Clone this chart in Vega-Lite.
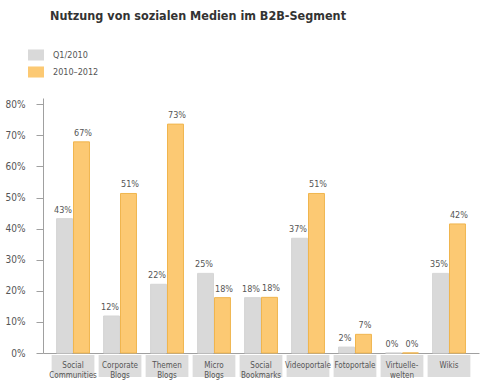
{
  "$schema": "https://vega.github.io/schema/vega-lite/v6.json",
  "padding": {"left": 5, "top": 9, "right": 5, "bottom": 0},
  "background": "white",
  "title": {"text": "Nutzung von sozialen Medien im B2B-Segment", "anchor": "start", "font": "DejaVu Sans Condensed, Liberation Sans, sans-serif", "fontSize": 12.5, "fontWeight": "bold", "color": "#333333", "offset": 25, "dx": 45},
  "config": {"view": {"stroke": null}, "font": "DejaVu Sans Condensed, Liberation Sans, sans-serif"},
  "datasets": {
    "bars": [
      {"cat": "sc", "series": "Q1/2010", "value": 0.432, "label": "43%"},
      {"cat": "sc", "series": "2010–2012", "value": 0.679, "label": "67%"},
      {"cat": "cb", "series": "Q1/2010", "value": 0.119, "label": "12%"},
      {"cat": "cb", "series": "2010–2012", "value": 0.513, "label": "51%"},
      {"cat": "tb", "series": "Q1/2010", "value": 0.221, "label": "22%"},
      {"cat": "tb", "series": "2010–2012", "value": 0.736, "label": "73%"},
      {"cat": "mb", "series": "Q1/2010", "value": 0.256, "label": "25%"},
      {"cat": "mb", "series": "2010–2012", "value": 0.178, "label": "18%"},
      {"cat": "sb", "series": "Q1/2010", "value": 0.178, "label": "18%"},
      {"cat": "sb", "series": "2010–2012", "value": 0.179, "label": "18%"},
      {"cat": "vp", "series": "Q1/2010", "value": 0.369, "label": "37%"},
      {"cat": "vp", "series": "2010–2012", "value": 0.513, "label": "51%"},
      {"cat": "fp", "series": "Q1/2010", "value": 0.019, "label": "2%"},
      {"cat": "fp", "series": "2010–2012", "value": 0.06, "label": "7%"},
      {"cat": "vw", "series": "Q1/2010", "value": 0, "label": "0%"},
      {"cat": "vw", "series": "2010–2012", "value": 0, "label": "0%"},
      {"cat": "wk", "series": "Q1/2010", "value": 0.256, "label": "35%"},
      {"cat": "wk", "series": "2010–2012", "value": 0.415, "label": "42%"}
    ],
    "cats": [
      {"cat": "sc", "name": "Social\nCommunities"},
      {"cat": "cb", "name": "Corporate\nBlogs"},
      {"cat": "tb", "name": "Themen\nBlogs"},
      {"cat": "mb", "name": "Micro\nBlogs"},
      {"cat": "sb", "name": "Social\nBookmarks"},
      {"cat": "vp", "name": "Videoportale"},
      {"cat": "fp", "name": "Fotoportale"},
      {"cat": "vw", "name": "Virtuelle-\nwelten"},
      {"cat": "wk", "name": "Wikis"}
    ]
  },
  "spacing": 2,
  "bounds": "flush",
  "resolve": {"scale": {"x": "independent", "y": "independent"}},
  "vconcat": [
    {
      "width": 436,
      "height": 255,
      "data": {"name": "bars"},
      "encoding": {
        "x": {"field": "cat", "type": "nominal", "sort": null, "scale": {"paddingInner": 0.3, "paddingOuter": 0.2885}, "axis": {"title": null, "labels": false, "ticks": false, "domainColor": "#a0a0a0", "domainWidth": 1, "minExtent": 0, "maxExtent": 0}},
        "xOffset": {"field": "series", "type": "nominal", "scale": {"domain": ["Q1/2010", "2010–2012"], "paddingInner": 0.06}},
        "y": {"field": "value", "type": "quantitative", "scale": {"domain": [0, 0.82], "nice": false}, "axis": {"title": null, "values": [0, 0.1, 0.2, 0.3, 0.4, 0.5, 0.6, 0.7, 0.8], "format": ".0%", "grid": false, "domainColor": "#a0a0a0", "tickColor": "#a0a0a0", "tickSize": 7, "labelPadding": 11, "labelFontSize": 10, "labelColor": "#555555", "labelFont": "DejaVu Sans Condensed, Liberation Sans, sans-serif"}}
      },
      "layer": [
        {
          "mark": {"type": "bar", "strokeWidth": 1},
          "encoding": {
            "color": {"field": "series", "type": "nominal", "scale": {"domain": ["Q1/2010", "2010–2012"], "range": ["#d9d9d9", "#fcc973"]}, "legend": {"title": null, "orient": "none", "legendX": -15, "legendY": -51, "symbolType": "M-1,-0.69H1V0.69H-1Z", "symbolSize": 256, "symbolOpacity": 1, "symbolStrokeWidth": 0, "labelFontSize": 9, "labelColor": "#555555", "labelFont": "DejaVu Sans Condensed, Liberation Sans, sans-serif", "labelOffset": 9, "rowPadding": 3}},
            "stroke": {"field": "series", "type": "nominal", "scale": {"domain": ["Q1/2010", "2010–2012"], "range": ["#d6d6d6", "#f0b54e"]}, "legend": null}
          }
        },
        {
          "transform": [{"filter": "datum.series === 'Q1/2010'"}],
          "mark": {"type": "text", "baseline": "bottom", "dy": -4, "dx": -1.5, "fontSize": 9, "color": "#555555", "font": "DejaVu Sans Condensed, Liberation Sans, sans-serif"},
          "encoding": {"text": {"field": "label"}}
        },
        {
          "transform": [{"filter": "datum.series !== 'Q1/2010'"}],
          "mark": {"type": "text", "baseline": "bottom", "dy": -4, "dx": 1.5, "fontSize": 9, "color": "#555555", "font": "DejaVu Sans Condensed, Liberation Sans, sans-serif"},
          "encoding": {"text": {"field": "label"}}
        }
      ]
    },
    {
      "width": 436,
      "height": 22,
      "data": {"name": "cats"},
      "encoding": {
        "x": {"field": "cat", "type": "nominal", "sort": null, "scale": {"paddingInner": 0.09, "paddingOuter": 0.1835}, "axis": null}
      },
      "layer": [
        {
          "mark": {"type": "bar", "color": "#dcdcdc"},
          "encoding": {
            "y": {"datum": 1, "type": "quantitative", "scale": {"domain": [0, 1]}, "axis": null},
            "y2": {"datum": 0}
          }
        },
        {
          "mark": {"type": "text", "fontSize": 8, "color": "#555555", "lineBreak": "\n", "baseline": "middle", "font": "DejaVu Sans Condensed, Liberation Sans, sans-serif", "lineHeight": 9.5},
          "encoding": {
            "y": {"datum": 0.5, "type": "quantitative", "scale": {"domain": [0, 1]}, "axis": null},
            "text": {"field": "name"}
          }
        }
      ]
    }
  ]
}
